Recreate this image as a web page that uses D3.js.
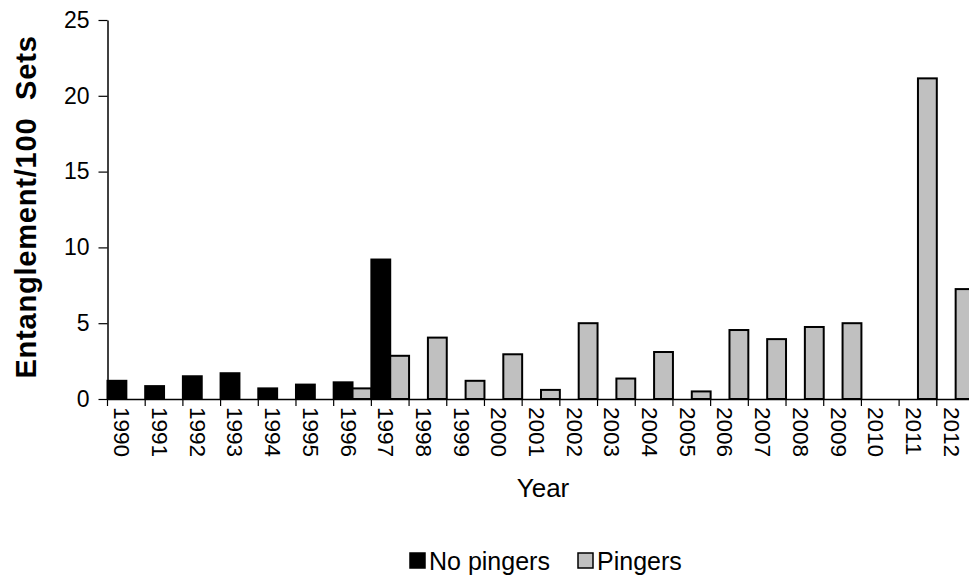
<html>
<head>
<meta charset="utf-8">
<script src="https://d3js.org/d3.v7.min.js"></script>
<style>
  body { margin: 0; background: #fff; }
  svg { display: block; font-family: "Liberation Sans", Arial, sans-serif; }
</style>
</head>
<body>
<svg width="969" height="579"></svg>
<script>
// data
var years = ['1990','1991','1992','1993','1994','1995','1996','1997','1998','1999','2000','2001',
             '2002','2003','2004','2005','2006','2007','2008','2009','2010','2011','2012'];
var noPingers = [1.2, 0.85, 1.5, 1.7, 0.7, 0.95, 1.1, 9.2, null, null, null, null,
                 null, null, null, null, null, null, null, null, null, null, null];
var pingers = [null, null, null, null, null, null, 0.7, 2.85, 4.05, 1.2, 2.95, 0.6,
               5.0, 1.35, 3.1, 0.5, 4.55, 3.95, 4.75, 5.0, null, 21.15, 7.25];
var yTicks = [0, 5, 10, 15, 20, 25];
var seriesNames = ['No pingers', 'Pingers'];
var seriesColors = ['#000000', '#c0c0c0'];

var svg = d3.select('svg');

var x = d3.scaleBand().domain(years).range([107.5, 974.5]).padding(0);
var bw = x.bandwidth();
var sub = d3.scaleBand().domain([0, 1]).range([0, bw]).padding(0);
var y = d3.scaleLinear().domain([0, 25]).range([399, 20]);

// bars
var rows = [];
years.forEach(function(yr, i) {
  [noPingers[i], pingers[i]].forEach(function(v, s) {
    if (v != null) rows.push({year: yr, s: s, v: v});
  });
});

svg.append('g')
  .selectAll('rect')
  .data(rows)
  .enter()
  .append('rect')
  .attr('x', function(d) { return x(d.year) + sub(d.s); })
  .attr('y', function(d) { return y(d.v); })
  .attr('width', sub.bandwidth())
  .attr('height', function(d) { return y(0) - y(d.v); })
  .attr('fill', function(d) { return seriesColors[d.s]; })
  .attr('stroke', '#000')
  .attr('stroke-width', 2);

// y axis
var yAxis = svg.append('g')
  .attr('transform', 'translate(107.5,0)')
  .call(d3.axisLeft(y).tickValues(yTicks).tickSize(9).tickSizeOuter(0).tickPadding(9));
yAxis.select('.domain').attr('stroke-width', 1.5);
yAxis.selectAll('.tick line').attr('stroke-width', 1.2);
yAxis.selectAll('.tick text').attr('font-size', 23).attr('fill', '#000').attr('font-family', null);

// x axis, ticks sit between the years
var xAxis = svg.append('g')
  .attr('transform', 'translate(0,399)')
  .call(d3.axisBottom(x).tickSize(7).tickSizeOuter(0));
xAxis.select('.domain').attr('stroke-width', 1.5);
xAxis.selectAll('.tick line')
  .attr('x1', -bw / 2).attr('x2', -bw / 2)
  .attr('stroke-width', 1.2);
xAxis.selectAll('.tick text')
  .attr('font-size', 22.5)
  .attr('fill', '#000')
  .attr('font-family', null)
  .attr('text-anchor', 'start')
  .attr('x', 0).attr('y', 0).attr('dy', null)
  .attr('transform', 'translate(-12,8) rotate(90)');

// axis titles
svg.append('text')
  .attr('transform', 'translate(36,207) rotate(-90)')
  .attr('text-anchor', 'middle')
  .attr('font-size', 29)
  .attr('font-weight', 'bold')
  .attr('letter-spacing', 0.8)
  .style('white-space', 'pre')
  .text('Entanglement/100  Sets');

svg.append('text')
  .attr('x', 543)
  .attr('y', 497)
  .attr('text-anchor', 'middle')
  .attr('font-size', 26)
  .text('Year');

// legend
var legX = [410, 578];
var leg = svg.append('g').selectAll('g')
  .data(seriesNames)
  .enter()
  .append('g')
  .attr('transform', function(d, i) { return 'translate(' + legX[i] + ',553)'; });
leg.append('rect')
  .attr('width', 15).attr('height', 15)
  .attr('fill', function(d, i) { return seriesColors[i]; })
  .attr('stroke', '#000')
  .attr('stroke-width', 1.5);
leg.append('text')
  .attr('x', 19)
  .attr('y', 17)
  .attr('font-size', 25)
  .text(function(d) { return d; });
</script>
</body>
</html>
